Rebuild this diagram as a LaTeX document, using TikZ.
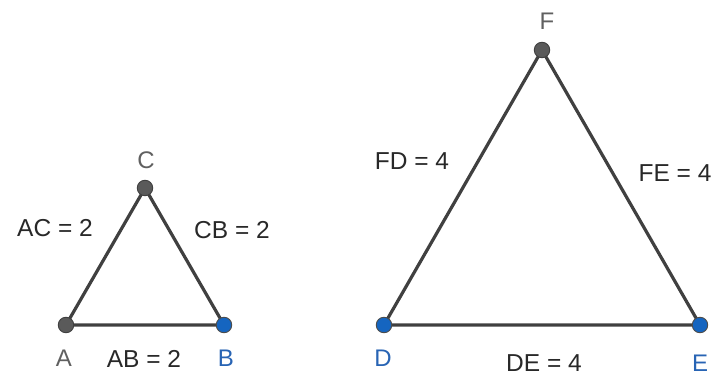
\documentclass[tikz,border=0pt]{standalone}
\usepackage{fontspec}
\setmainfont{Liberation Sans}
\definecolor{lbl}{RGB}{96,96,96}
\definecolor{txt}{RGB}{40,40,40}
\definecolor{edge}{RGB}{64,64,64}
\definecolor{ptgray}{RGB}{90,90,90}
\definecolor{ptblue}{RGB}{21,101,192}
\definecolor{lblblue}{RGB}{40,100,180}
\begin{document}
\begin{tikzpicture}[x=1pt,y=-1pt,
  seg/.style={draw=edge,line width=3.2pt},
  grayPt/.style={circle,fill=ptgray,draw=black!75,line width=0.9pt,minimum size=15.5pt,inner sep=0pt},
  bluePt/.style={circle,fill=ptblue,draw=black!70,line width=0.9pt,minimum size=15.5pt,inner sep=0pt},
  ptlabel/.style={text=lbl,font=\fontsize{24}{26}\selectfont},
  bluelabel/.style={text=lblblue,font=\fontsize{24}{26}\selectfont},
  measure/.style={text=txt,font=\fontsize{24.5}{26}\selectfont}]
\useasboundingbox (0,0) rectangle (715,379);
% vertices positions
\coordinate (pA) at (66,325);
\coordinate (pB) at (224,325);
\coordinate (pC) at (145,188);
\coordinate (pD) at (384,325);
\coordinate (pE) at (700,325);
\coordinate (pF) at (542,50);
% edges
\draw[seg] (pA) -- (pB) -- (pC) -- cycle;
\draw[seg] (pD) -- (pE) -- (pF) -- cycle;
% points
\node[grayPt] (A) at (pA) {};
\node[bluePt] (B) at (pB) {};
\node[grayPt] (C) at (pC) {};
\node[bluePt] (D) at (pD) {};
\node[bluePt] (E) at (pE) {};
\node[grayPt] (F) at (pF) {};
% vertex labels
\node[ptlabel] (lA) at (64,358) {A};
\node[bluelabel] (lB) at (226,358) {B};
\node[ptlabel] (lC) at (146,160) {C};
\node[bluelabel] (lD) at (383,358) {D};
\node[bluelabel] (lE) at (700,363) {E};
\node[ptlabel] (lF) at (547,21) {F};
% measures
\node[measure] (mAC) at (55,228) {AC = 2};
\node[measure] (mCB) at (232,230) {CB = 2};
\node[measure] (mAB) at (144,359) {AB = 2};
\node[measure] (mFD) at (412,161) {FD = 4};
\node[measure] (mFE) at (675,173) {FE = 4};
\node[measure] (mDE) at (544,363) {DE = 4};
\end{tikzpicture}
\end{document}
